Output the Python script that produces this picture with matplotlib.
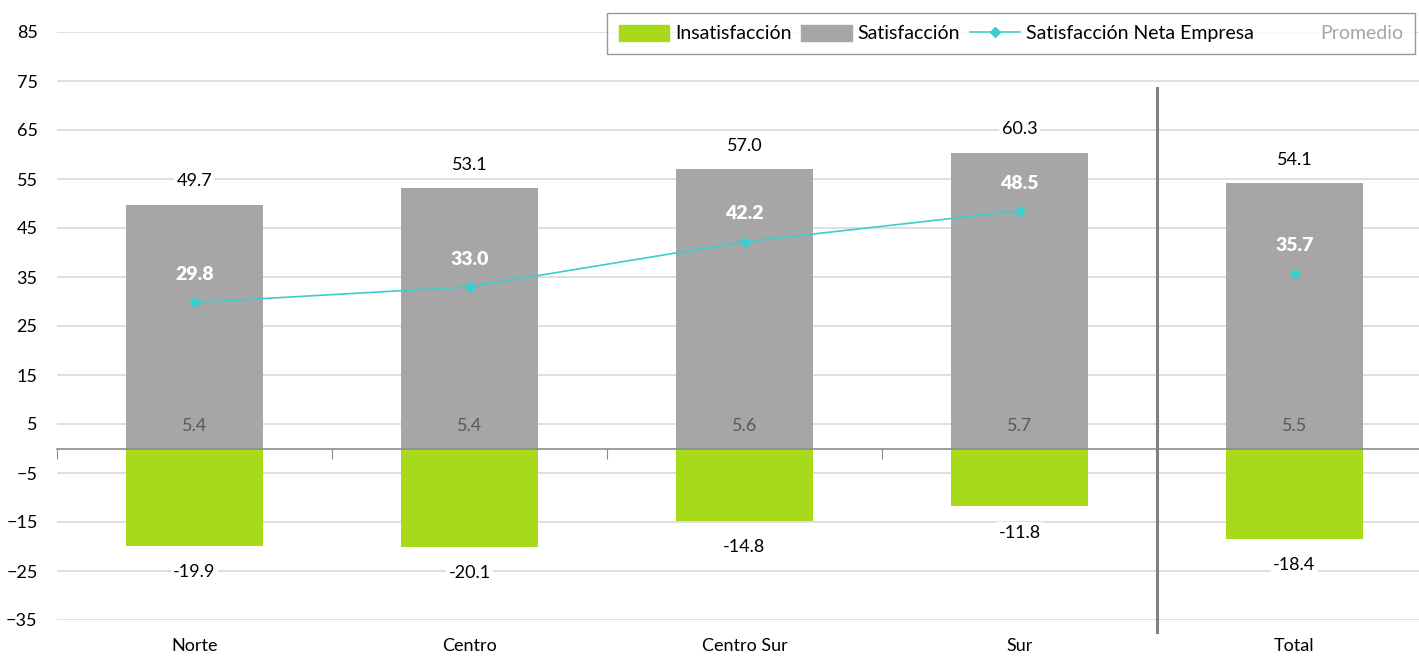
import matplotlib
matplotlib.use("Agg")
import matplotlib.pyplot as plt
from matplotlib.lines import Line2D
from matplotlib.patches import Patch
import matplotlib.transforms as mtransforms
import numpy as np

plt.rcParams["font.family"] = ["Lato", "DejaVu Sans"]
plt.rcParams["font.size"] = 13

# Data
categories = ["Norte", "Centro", "Centro Sur", "Sur", "Total"]
insatisfaccion = [-19.9, -20.1, -14.8, -11.8, -18.4]
satisfaccion = [49.7, 53.1, 57.0, 60.3, 54.1]
neta = [29.8, 33.0, 42.2, 48.5, 35.7]
promedio = [5.4, 5.4, 5.6, 5.7, 5.5]
yticks = [85, 75, 65, 55, 45, 35, 25, 15, 5, -5, -15, -25, -35]

GREEN = "#A7DA1B"
GRAY = "#A6A6A6"
TEAL = "#3FCCCC"

fig = plt.figure(figsize=(14.19, 6.57), dpi=100)
ax = fig.add_axes([57 / 1419, 1 - 620 / 657, 1375 / 1419, 588 / 657])

x = np.arange(len(categories))
w = 0.5
ax.bar(x, satisfaccion, w, color=GRAY, zorder=2)
ax.bar(x, insatisfaccion, w, color=GREEN, zorder=2)

# net line for regions, separate point for total
ax.plot(x[:-1], neta[:-1], "-D", color=TEAL, markersize=5, linewidth=1.2, zorder=3)
ax.plot(x[-1:], neta[-1:], "D", color=TEAL, markersize=5, zorder=3)

ax.set_xlim(-0.5, len(categories) - 0.5)
ax.set_ylim(-35, 85)
ax.set_yticks(yticks)
ax.yaxis.grid(True, color="#D9D9D9", linewidth=1.2, zorder=0)
ax.set_axisbelow(True)
ax.tick_params(axis="y", length=0, pad=14, labelsize=13, colors="#000000")

for s in ["top", "right", "left"]:
    ax.spines[s].set_visible(False)
ax.spines["bottom"].set_position(("data", 0))
ax.spines["bottom"].set_color("#8C8C8C")
ax.spines["bottom"].set_linewidth(1.2)
ax.set_xticks(np.arange(-0.5, len(categories), 1.0))
ax.set_xticks(x, minor=True)
ax.tick_params(axis="x", which="major", direction="out", length=7, color="#8C8C8C",
               labelbottom=False)
ax.tick_params(axis="x", which="minor", direction="out", length=4, color="#8C8C8C",
               labelbottom=False)

trans = mtransforms.blended_transform_factory(ax.transData, ax.transAxes)
for xi, name in zip(x, categories):
    ax.text(xi, -0.045, name, transform=trans, ha="center", va="center", fontsize=13)

# separator before total
ax.plot([3.5, 3.5], [-0.02, 0.905], transform=trans, color="#808080",
        linewidth=2.2, clip_on=False, zorder=4)

box = dict(boxstyle="square,pad=0.15", fc="white", ec="none")
for xi, s, n, ins, p in zip(x, satisfaccion, neta, insatisfaccion, promedio):
    ax.annotate(f"{s:.1f}", (xi, s), xytext=(0, 17), textcoords="offset points",
                ha="center", va="center", fontsize=13, bbox=box, zorder=5)
    ax.annotate(f"{n:.1f}", (xi, n), xytext=(0, 20), textcoords="offset points",
                ha="center", va="center", fontsize=14, color="white",
                fontweight="heavy", zorder=5)
    ax.annotate(f"{p:.1f}", (xi, 0), xytext=(0, 16.5), textcoords="offset points",
                ha="center", va="center", fontsize=13, color="#595959", zorder=5)
    ax.annotate(f"{ins:.1f}", (xi, ins), xytext=(0, -19), textcoords="offset points",
                ha="center", va="center", fontsize=13, bbox=box, zorder=5)

handles = [
    Patch(color=GREEN),
    Patch(color=GRAY),
    Line2D([0], [0], color=TEAL, marker="D", markersize=5, linewidth=1.2),
    Line2D([0], [0], color="none"),
]
labels = ["Insatisfacción", "Satisfacción", "Satisfacción Neta Empresa", "Promedio"]
leg = fig.legend(handles, labels, ncol=4, loc="upper right",
                 bbox_to_anchor=(1415 / 1419, 1 - 13 / 657), frameon=True,
                 fancybox=False, edgecolor="#808080", fontsize=14,
                 handlelength=2.6, handleheight=0.9, handletextpad=0.3,
                 columnspacing=0.5, borderpad=0.6, borderaxespad=0)
leg.get_frame().set_linewidth(1.0)
leg.get_texts()[3].set_color("#A6A6A6")

fig.savefig("out.png", dpi=100)
